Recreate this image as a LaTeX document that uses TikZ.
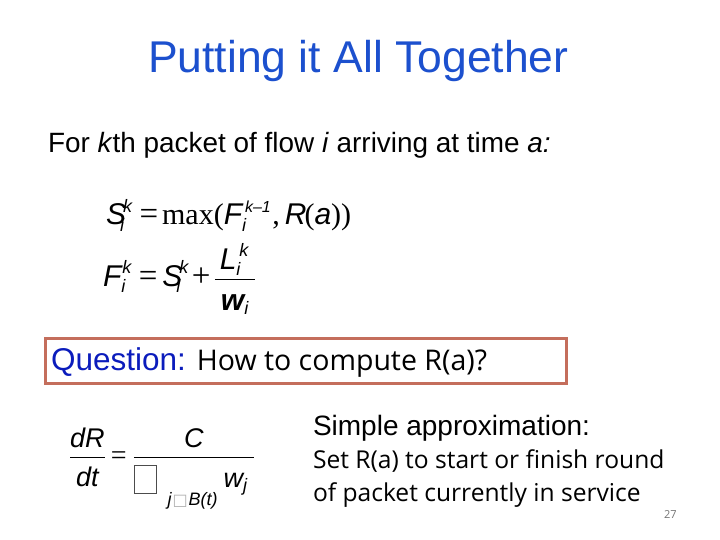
\documentclass[tikz,border=0pt]{standalone}
\usepackage{amsmath}
\usepackage{fontspec}
\setmainfont{Liberation Sans}
\newfontfamily\bodyfont{Open Sans}
\newfontfamily\romanfont{Liberation Serif}
\newfontfamily\boxfont{DejaVu Sans}
\definecolor{titleblue}{HTML}{1C50CE}
\definecolor{askblue}{HTML}{0B1CBC}
\definecolor{boxred}{HTML}{C46E5C}
\newcommand{\fs}[1]{\fontsize{#1}{#1}\selectfont}
\newcommand{\sym}[1]{\text{\itshape #1}}
\newcommand{\rel}[1]{\text{\romanfont #1}}
\newcommand{\scr}[1]{\text{\fs{18}\itshape #1}}
\newcommand{\gap}[1]{\hspace{#1pt}}
\tikzset{
  line/.style={anchor=base west,inner sep=0pt,outer sep=0pt},
}
\begin{document}
\begin{tikzpicture}[x=1pt,y=-1pt]
  \useasboundingbox (0,0) rectangle (720,540);
  % heading
  \node[line,text=titleblue] (title) at (148,73) {\fs{44.5}Putting it All Together};
  \node[line] (intro) at (48,153) {\fs{27.9}For \textit{k}th packet of flow \textit{i} arriving at time \textit{a:}};

  % finish and start tags
  \node[line] (eqS) at (106,225) {\fs{30}$\sym{S}^{\gap{-3}\scr{k}}_{\gap{-6}\scr{i}}\gap{7}\rel{\fs{33}=}\gap{4}\rel{\fs{30}max(}\gap{0}\sym{F}^{\gap{3}\text{\fs{16}\itshape k--1}}_{\scr{i}}\gap{1}\rel{,}\gap{5}\sym{R}\gap{-2}\rel{(}\sym{a}\rel{))}$};
  \node[line] (eqF) at (103,286) {\fs{30}$\sym{F}^{\gap{1}\scr{k}}_{\scr{i}}\gap{7}\rel{\fs{33}=}\gap{5}\sym{S}^{\gap{-3}\scr{k}}_{\gap{-6}\scr{i}}\gap{3}\rel{\fs{33}+}\gap{3}\dfrac{\gap{5}\sym{L}^{\gap{3}\scr{k}}_{\scr{i}}\gap{6}}{\rule{0pt}{27pt}\gap{4}\textbf{\itshape w}_{\scr{i}}\gap{4}}$};

  % question
  \node[draw=boxred,line width=3pt,anchor=west,minimum width=521pt,minimum height=45pt,inner xsep=5pt] (question) at (43.5,360.5)
    {\raisebox{-9.5pt}[0pt][0pt]{\makebox[509pt][l]{\fs{31.5}\textcolor{askblue}{Question:}\hspace{11pt}{\bodyfont\fs{28.5}How to compute R(a)?}}}};

  % virtual time
  \node[line] (eqR) at (69,464) {\fs{27}$\dfrac{\sym{dR}}{\rule{0pt}{25pt}\sym{dt}}\gap{5}\rel{\fs{28}=}\gap{6}\dfrac{\sym{C}}{\makebox[120pt][l]{\rule{0pt}{26pt}\raisebox{-6pt}{\setlength{\fboxsep}{0pt}\setlength{\fboxrule}{0.8pt}\textcolor{black!70}{\fbox{\phantom{\rule{21pt}{27pt}}}}}\hspace{11pt}\raisebox{-18pt}{\fs{18}\itshape j\hspace{1pt}{\boxfont\fs{16}\color{black!30}□}\hspace{1pt}B(t)}\hspace{6pt}$\sym{w}_{\scr{j}}$}}$};

  \node[line] (approx) at (313,435) {\fs{28}Simple approximation:};
  \node[line] (setline) at (313,468) {\bodyfont\fs{24.6}Set R(a) to start or finish round};
  \node[line] (ofline) at (313,501) {\bodyfont\fs{24.6}of packet currently in service};
  \node[line,text=black!55] (pagenum) at (664,518) {\bodyfont\fs{11}27};
\end{tikzpicture}
\end{document}
